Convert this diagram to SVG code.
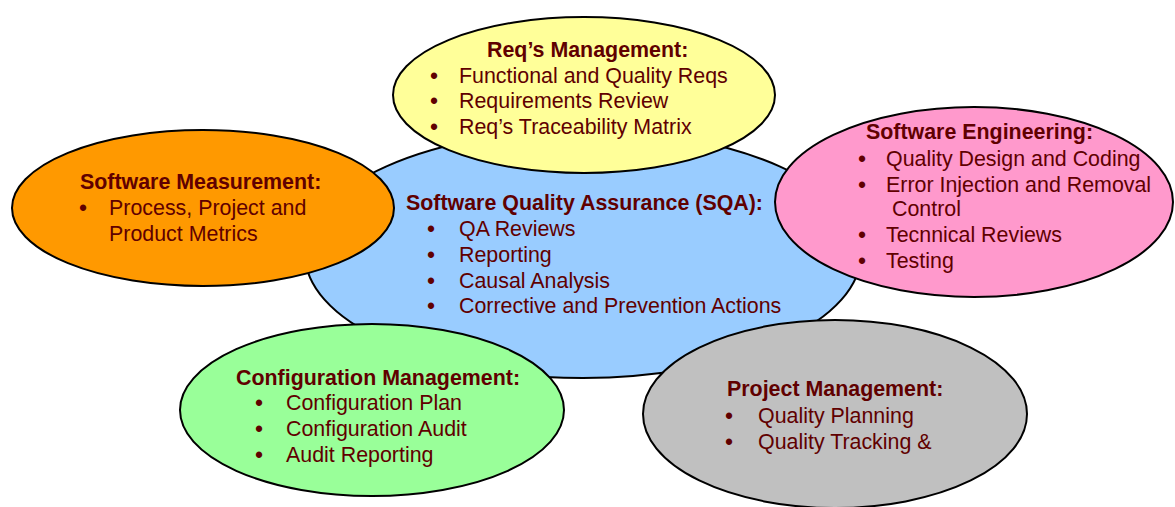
<svg xmlns="http://www.w3.org/2000/svg" width="1175" height="507" viewBox="0 0 1175 507">
  <style>
    .bubble { stroke: #000; stroke-width: 2; }
    text { font-family: "Liberation Sans", Arial, sans-serif; font-size: 21.4px; fill: #600000; }
    .title { font-weight: bold; }
    .dot { font-size: 23px; }
  </style>
  <rect width="1175" height="507" fill="#fff"/>

  <!-- central SQA bubble -->
  <g id="sqa">
    <ellipse class="bubble" cx="583" cy="254" rx="278" ry="124" fill="#99CCFF"/>
    <text class="title" x="406" y="210">Software Quality Assurance (SQA):</text>
    <text class="dot" x="427" y="237">•</text><text x="459" y="236">QA Reviews</text>
    <text class="dot" x="427" y="263">•</text><text x="459" y="262">Reporting</text>
    <text class="dot" x="427" y="289">•</text><text x="459" y="288">Causal Analysis</text>
    <text class="dot" x="427" y="314">•</text><text x="459" y="313">Corrective and Prevention Actions</text>
  </g>

  <!-- requirements management -->
  <g id="reqs">
    <ellipse class="bubble" cx="584" cy="95" rx="191" ry="78" fill="#FFFF99"/>
    <text class="title" x="487" y="57">Req’s Management:</text>
    <text class="dot" x="430" y="84">•</text><text x="459" y="83">Functional and Quality Reqs</text>
    <text class="dot" x="430" y="109">•</text><text x="459" y="108">Requirements Review</text>
    <text class="dot" x="430" y="135">•</text><text x="459" y="134">Req’s Traceability Matrix</text>
  </g>

  <!-- software measurement -->
  <g id="measurement">
    <ellipse class="bubble" cx="203" cy="208" rx="191" ry="78" fill="#FF9900"/>
    <text class="title" x="80" y="189">Software Measurement:</text>
    <text class="dot" x="79" y="216">•</text><text x="109" y="215">Process, Project and</text>
    <text x="109" y="241">Product Metrics</text>
  </g>

  <!-- software engineering -->
  <g id="engineering">
    <ellipse class="bubble" cx="974" cy="202" rx="199" ry="95" fill="#FF99CC"/>
    <text class="title" x="866" y="139">Software Engineering:</text>
    <text class="dot" x="858" y="167">•</text><text x="886" y="166">Quality Design and Coding</text>
    <text class="dot" x="858" y="193">•</text><text x="886" y="192">Error Injection and Removal</text>
    <text x="892" y="216">Control</text>
    <text class="dot" x="858" y="243">•</text><text x="886" y="242">Tecnnical Reviews</text>
    <text class="dot" x="858" y="269">•</text><text x="886" y="268">Testing</text>
  </g>

  <!-- configuration management -->
  <g id="configuration">
    <ellipse class="bubble" cx="372" cy="410" rx="192" ry="86" fill="#99FF99"/>
    <text class="title" x="236" y="385">Configuration Management:</text>
    <text class="dot" x="255" y="411">•</text><text x="286" y="410">Configuration Plan</text>
    <text class="dot" x="255" y="437">•</text><text x="286" y="436">Configuration Audit</text>
    <text class="dot" x="255" y="463">•</text><text x="286" y="462">Audit Reporting</text>
  </g>

  <!-- project management -->
  <g id="project">
    <ellipse class="bubble" cx="835" cy="414" rx="192" ry="94" fill="#C0C0C0"/>
    <text class="title" x="727" y="396">Project Management:</text>
    <text class="dot" x="725" y="424">•</text><text x="758" y="423">Quality Planning</text>
    <text class="dot" x="725" y="450">•</text><text x="758" y="449">Quality Tracking &amp;</text>
  </g>

  <!-- no connectors: the bubbles overlap directly -->
  <g id="connectors"/>
</svg>
